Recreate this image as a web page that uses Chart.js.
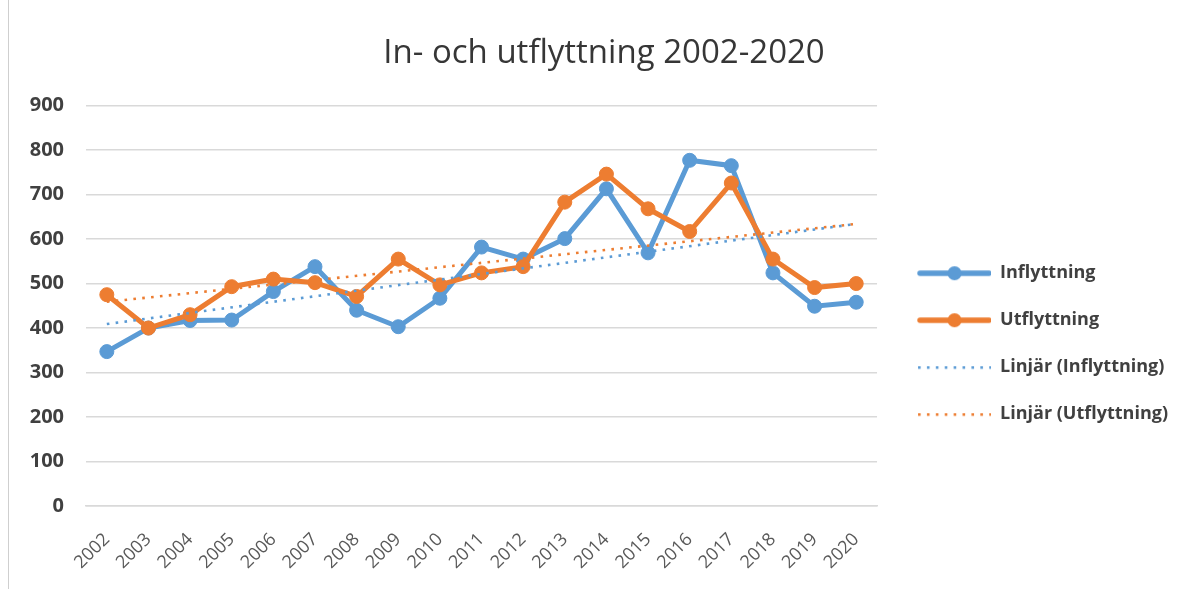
<!DOCTYPE html>
<html>

<head>
  <meta charset="UTF-8">
  <script src="https://cdn.jsdelivr.net/npm/chart.js"></script>
  <style>
    body { margin: 0; background: #fff; }
    .wrap { position: relative; width: 1197px; height: 589px; }
    .edge { position: absolute; left: 8px; top: 0; bottom: 0; width: 1px; background: #cfcfcf; }
  </style>
</head>

<body>
  <div class="wrap">
    <div class="edge"></div>
    <canvas id="myChart"></canvas>
  </div>
  <script>
    const years = ["2002", "2003", "2004", "2005", "2006", "2007", "2008", "2009", "2010", "2011",
      "2012", "2013", "2014", "2015", "2016", "2017", "2018", "2019", "2020"];
    const inflyttning = [347, 400, 417, 418, 482, 538, 440, 403, 467, 582, 555, 601, 713, 569, 777, 765, 524, 449, 458];
    const utflyttning = [475, 400, 430, 493, 510, 502, 471, 555, 497, 524, 538, 683, 746, 668, 617, 726, 555, 491, 500];
    // trend line end values (first and last year)
    const trendIn = [409, 634];
    const trendUt = [459, 634];
    const yTicks = [0, 100, 200, 300, 400, 500, 600, 700, 800, 900];

    const blue = '#5B9BD5';
    const orange = '#ED7D31';

    function ends(pair) {
      const arr = years.map(() => null);
      arr[0] = pair[0];
      arr[arr.length - 1] = pair[1];
      return arr;
    }

    // little pictures for the legend
    function swatch(color, dotted) {
      const c = document.createElement('canvas');
      c.width = 85;
      c.height = 16;
      const g = c.getContext('2d');
      g.fillStyle = color;
      g.strokeStyle = color;
      if (dotted) {
        for (let x = 12; x < 84; x += 8.9) g.fillRect(x, 7, 2.6, 2.6);
      } else {
        g.lineWidth = 5.5;
        g.lineCap = 'round';
        g.beginPath();
        g.moveTo(14, 8);
        g.lineTo(83, 8);
        g.stroke();
        g.beginPath();
        g.arc(48.5, 8, 7, 0, Math.PI * 2);
        g.fill();
      }
      return c;
    }
    const swatches = [swatch(blue, false), swatch(orange, false), swatch(blue, true), swatch(orange, true)];

    const font = 'Open Sans';

    new Chart(document.getElementById('myChart'), {
      type: 'line',
      data: {
        labels: years,
        datasets: [{
          label: 'Inflyttning',
          data: inflyttning,
          borderColor: blue,
          backgroundColor: blue,
          borderWidth: 5,
          pointRadius: 7,
          pointBorderWidth: 1,
          order: 2
        },
        {
          label: 'Utflyttning',
          data: utflyttning,
          borderColor: orange,
          backgroundColor: orange,
          borderWidth: 5,
          pointRadius: 7,
          pointBorderWidth: 1,
          order: 1
        },
        {
          label: 'Linjär (Inflyttning)',
          data: ends(trendIn),
          spanGaps: true,
          borderColor: blue,
          borderWidth: 2.6,
          borderDash: [2.6, 6.3],
          pointRadius: 0,
          order: 0
        },
        {
          label: 'Linjär (Utflyttning)',
          data: ends(trendUt),
          spanGaps: true,
          borderColor: orange,
          borderWidth: 2.6,
          borderDash: [2.6, 6.3],
          pointRadius: 0,
          order: 0
        }
        ]
      },
      options: {
        responsive: true,
        maintainAspectRatio: false,
        animation: false,
        layout: { padding: { left: 30, right: 19, top: 0, bottom: 0 } },
        plugins: {
          tooltip: { enabled: false },
          title: {
            display: true,
            text: 'In- och utflyttning 2002-2020',
            color: '#363636',
            font: { family: font, size: 33, weight: 'normal' },
            padding: { top: 34, bottom: 32 }
          },
          legend: {
            position: 'right',
            maxWidth: 330,
            title: { display: true, text: ' ', padding: { top: 84, bottom: 0 } },
            labels: {
              usePointStyle: true,
              pointStyleWidth: 85,
              padding: 29,
              color: '#404040',
              font: { family: font, size: 18, weight: 'bold' },
              generateLabels: chart => chart.data.datasets.map((ds, i) => ({
                text: ds.label,
                pointStyle: swatches[i],
                datasetIndex: i,
                hidden: false,
                fontColor: '#404040',
                lineWidth: 0,
                strokeStyle: 'transparent',
                fillStyle: 'transparent'
              }))
            }
          }
        },
        scales: {
          x: {
            offset: true,
            grid: { display: false },
            border: { color: '#d9d9d9', width: 1.5 },
            ticks: {
              color: '#595959',
              font: { family: font, size: 18 },
              minRotation: 45,
              maxRotation: 45,
              padding: 15
            },
            afterFit: s => { s.height = 83; }
          },
          y: {
            min: 0,
            max: 900,
            afterBuildTicks: s => { s.ticks = yTicks.map(v => ({ value: v })); },
            grid: { color: '#d9d9d9', lineWidth: 1.5, drawTicks: false },
            border: { display: false },
            ticks: {
              color: '#404040',
              font: { family: font, size: 20, weight: 'bold' },
              padding: 22
            },
            afterFit: s => { s.width = 56; }
          }
        }
      }
    });
  </script>
</body>

</html>
